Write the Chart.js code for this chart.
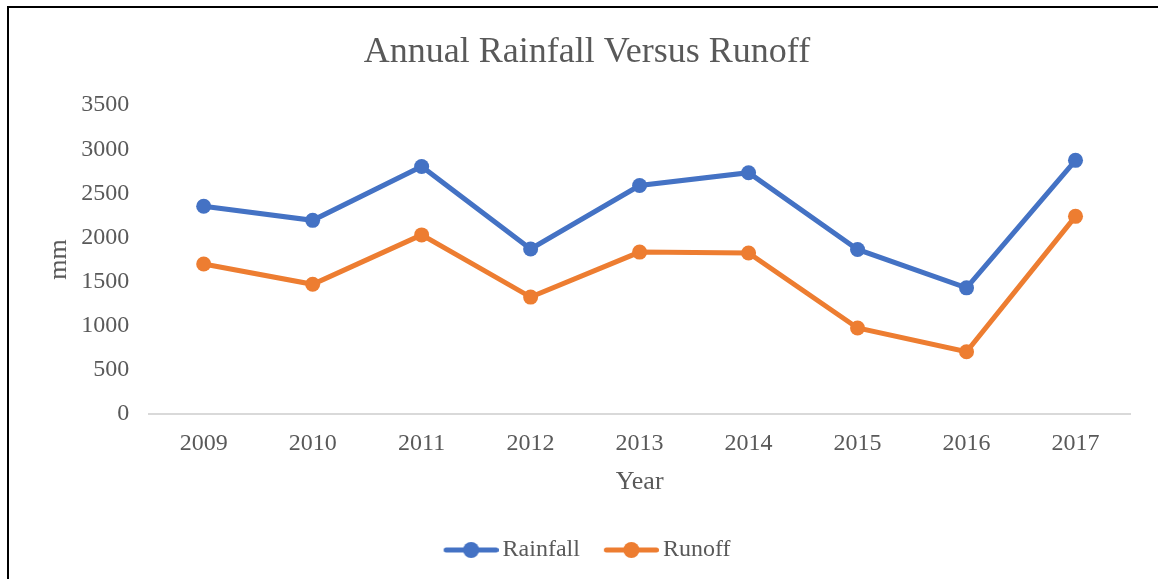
<!DOCTYPE html>
<html>
<head>
<meta charset="utf-8">
<script src="https://cdn.jsdelivr.net/npm/chart.js@4/dist/chart.umd.min.js"></script>
<style>
  html, body { margin: 0; padding: 0; background: #fff; overflow: hidden; }
  #wrap { position: relative; width: 1158px; height: 579px; }
  #frame { position: absolute; left: 7px; top: 6px; width: 1200px; height: 700px; border: 2px solid #000; box-sizing: border-box; pointer-events: none; }
  canvas { position: absolute; left: 0; top: 0; }
</style>
</head>
<body>
<div id="wrap">
  <canvas id="c" width="1158" height="579"></canvas>
  <div id="frame"></div>
</div>
<script>
const years = ['2009', '2010', '2011', '2012', '2013', '2014', '2015', '2016', '2017'];
const rainfall = [2355, 2195, 2805, 1870, 2590, 2735, 1865, 1430, 2875];
const runoff = [1700, 1470, 2030, 1325, 1835, 1825, 975, 705, 2240];
const yTicks = [0, 500, 1000, 1500, 2000, 2500, 3000, 3500];

const BLUE = '#4472C4';
const ORANGE = '#ED7D31';
const TEXT = '#595959';
const FONT = '"Liberation Serif", "Times New Roman", serif';

function legendIcon(color) {
  const c = document.createElement('canvas');
  c.width = 63; c.height = 20;
  const g = c.getContext('2d');
  g.strokeStyle = color; g.lineWidth = 5; g.lineCap = 'round';
  g.beginPath(); g.moveTo(10.5, 10); g.lineTo(60.5, 10); g.stroke();
  g.fillStyle = color;
  g.beginPath(); g.arc(35.5, 10, 8, 0, Math.PI * 2); g.fill();
  return c;
}
const icons = [legendIcon(BLUE), legendIcon(ORANGE)];

new Chart(document.getElementById('c'), {
  type: 'line',
  data: {
    labels: years,
    datasets: [
      { label: 'Rainfall', data: rainfall, borderColor: BLUE, backgroundColor: BLUE,
        borderWidth: 5, pointRadius: 7.5, pointHoverRadius: 7.5, pointBackgroundColor: BLUE, pointBorderWidth: 0, tension: 0 },
      { label: 'Runoff', data: runoff, borderColor: ORANGE, backgroundColor: ORANGE,
        borderWidth: 5, pointRadius: 7.5, pointHoverRadius: 7.5, pointBackgroundColor: ORANGE, pointBorderWidth: 0, tension: 0 }
    ]
  },
  options: {
    responsive: false,
    animation: false,
    layout: { padding: { left: 44, right: 28, top: 12, bottom: 7 } },
    plugins: {
      tooltip: { enabled: false },
      title: {
        display: true,
        text: 'Annual Rainfall Versus Runoff',
        color: TEXT,
        font: { family: FONT, size: 36, weight: 'normal' },
        padding: { top: 19, bottom: 31 }
      },
      legend: {
        position: 'bottom',
        labels: {
          color: TEXT,
          font: { family: FONT, size: 24 },
          usePointStyle: true,
          pointStyleWidth: 47,
          boxHeight: 20,
          padding: 24,
          generateLabels: (chart) => {
            const items = Chart.defaults.plugins.legend.labels.generateLabels(chart);
            items.forEach((it, i) => { it.pointStyle = icons[i]; });
            return items;
          }
        }
      }
    },
    scales: {
      x: {
        offset: true,
        grid: { display: false, drawTicks: false },
        border: { display: true, color: '#D9D9D9', width: 2 },
        ticks: { color: TEXT, font: { family: FONT, size: 24 }, padding: 15 },
        title: { display: true, text: 'Year', color: TEXT, font: { family: FONT, size: 26 }, padding: { top: -6, bottom: 16 } }
      },
      y: {
        min: 0, max: 3500,
        afterBuildTicks: (axis) => { axis.ticks = yTicks.map(v => ({ value: v })); },
        grid: { display: false, drawTicks: false },
        border: { display: false },
        ticks: { color: TEXT, font: { family: FONT, size: 24 }, padding: 20, callback: (v) => String(v) },
        title: { display: true, text: 'mm', color: TEXT, font: { family: FONT, size: 26 }, padding: { top: 0, bottom: -14 } }
      }
    }
  }
});
</script>
</body>
</html>
